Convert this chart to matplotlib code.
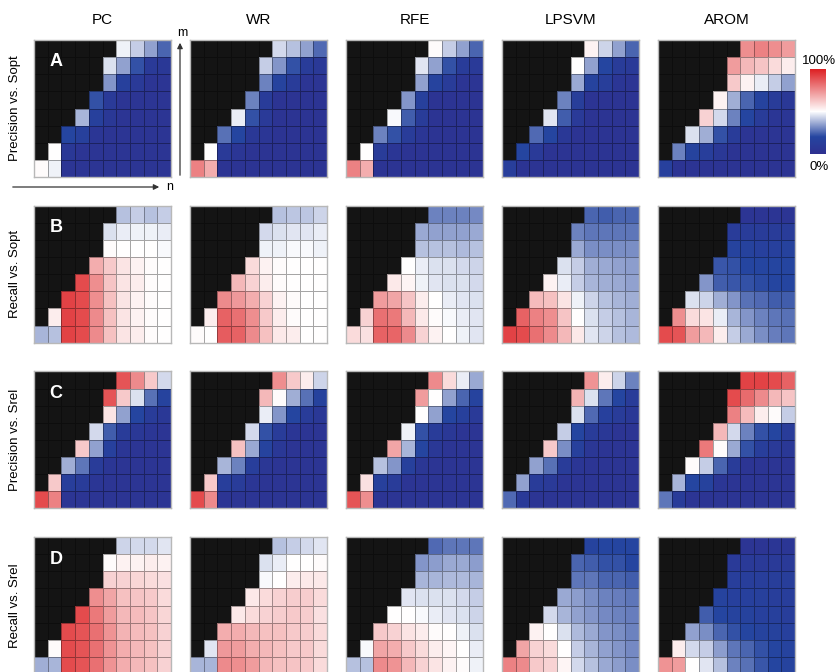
import numpy as np
import matplotlib
matplotlib.use("Agg")
import matplotlib.pyplot as plt
from matplotlib.colors import LinearSegmentedColormap
from matplotlib.cm import ScalarMappable
from matplotlib.colors import Normalize

plt.rcParams['font.family'] = ['Liberation Sans', 'DejaVu Sans']

methods = ["PC", "WR", "RFE", "LPSVM", "AROM"]
row_labels = ["Precision vs. Sopt", "Recall vs. Sopt", "Precision vs. Srel", "Recall vs. Srel"]
row_letters = ["A", "B", "C", "D"]

# black (undefined) cells per row, counted from the left, top row first
n_black = [6, 5, 5, 4, 3, 2, 1, 0]

# values in %, only the defined cells of every row (top row first)
A_PC = [
    [48, 42, 35, 25],
    [45, 35, 22, 10, 8],
    [33, 15, 10, 5, 5],
    [22, 10, 5, 5, 5, 5],
    [38, 15, 8, 5, 5, 5, 5],
    [20, 15, 6, 5, 5, 5, 5, 5],
    [50, 8, 5, 5, 5, 5, 5, 5, 5],
    [51, 48, 5, 5, 5, 5, 5, 5, 5, 5],
]
A_WR = [
    [44, 40, 35, 26],
    [42, 33, 22, 12, 9],
    [30, 18, 12, 5, 5],
    [30, 12, 4, 4, 4, 4],
    [47, 22, 10, 4, 4, 4, 4],
    [27, 20, 8, 6, 4, 4, 4, 4],
    [50, 10, 6, 4, 4, 4, 4, 4, 4],
    [78, 68, 4, 4, 4, 4, 4, 4, 4, 4],
]
A_RFE = [
    [51, 42, 35, 25],
    [46, 35, 22, 12, 10],
    [35, 18, 12, 5, 5],
    [33, 15, 4, 4, 4, 4],
    [49, 24, 12, 4, 4, 4, 4],
    [30, 22, 12, 6, 4, 4, 4, 4],
    [50, 12, 6, 4, 4, 4, 4, 4, 4],
    [78, 68, 4, 4, 4, 4, 4, 4, 4, 4],
]
A_LPSVM = [
    [53, 43, 35, 25],
    [50, 35, 20, 12, 10],
    [36, 18, 13, 6, 5],
    [30, 13, 4, 4, 4, 4],
    [46, 24, 10, 4, 4, 4, 4],
    [26, 20, 8, 4, 4, 4, 4, 4],
    [20, 10, 4, 4, 4, 4, 4, 4, 4],
    [14, 4, 4, 4, 4, 4, 4, 4, 4, 4],
]
A_AROM = [
    [75, 78, 75, 72],
    [72, 66, 63, 58, 54],
    [62, 53, 47, 42, 35],
    [53, 37, 25, 18, 12, 8],
    [60, 44, 30, 20, 12, 6, 6],
    [45, 37, 22, 12, 5, 5, 5, 5],
    [30, 18, 14, 8, 4, 4, 4, 4, 4],
    [16, 4, 4, 4, 4, 4, 4, 4, 4, 4],
]

B_PC = [
    [40, 42, 40, 42],
    [45, 47, 48, 48, 47],
    [51, 50, 50, 50, 49],
    [68, 62, 56, 53, 51, 50],
    [90, 75, 63, 56, 54, 51, 50],
    [92, 90, 75, 64, 56, 53, 51, 50],
    [54, 92, 90, 76, 64, 56, 53, 51, 50],
    [38, 40, 92, 90, 76, 64, 56, 54, 51, 50],
]
B_WR = [
    [40, 41, 41, 43],
    [44, 45, 46, 46, 47],
    [48, 48, 49, 49, 48],
    [58, 53, 51, 50, 50, 50],
    [66, 60, 54, 51, 50, 50, 50],
    [76, 73, 68, 60, 53, 51, 50, 50],
    [54, 85, 82, 75, 62, 54, 51, 50, 50],
    [51, 50, 86, 85, 76, 64, 55, 54, 50, 50],
]
B_RFE = [
    [30, 30, 30, 31],
    [36, 35, 35, 35, 36],
    [40, 40, 40, 39, 40],
    [50, 47, 45, 45, 44, 43],
    [55, 52, 48, 46, 45, 45, 44],
    [72, 70, 63, 54, 50, 47, 46, 45],
    [60, 82, 80, 66, 55, 51, 49, 47, 46],
    [58, 57, 85, 84, 76, 60, 53, 50, 48, 46],
]
B_LPSVM = [
    [25, 24, 25, 25],
    [30, 28, 28, 28, 28],
    [36, 32, 32, 32, 32],
    [45, 42, 37, 36, 35, 34],
    [53, 47, 42, 38, 37, 36, 35],
    [65, 64, 56, 48, 43, 40, 38, 37],
    [85, 78, 75, 63, 50, 45, 42, 40, 38],
    [92, 90, 82, 76, 66, 55, 46, 43, 40, 39],
]
B_AROM = [
    [5, 5, 5, 5],
    [12, 12, 12, 12, 12],
    [18, 17, 16, 16, 17],
    [23, 22, 20, 20, 20, 20],
    [33, 24, 23, 22, 21, 20, 20],
    [45, 43, 37, 33, 27, 26, 24, 24],
    [75, 58, 56, 47, 38, 33, 30, 28, 27],
    [90, 88, 72, 66, 54, 42, 36, 32, 29, 28],
]

C_PC = [
    [88, 76, 62, 44],
    [88, 62, 45, 27, 18],
    [56, 35, 20, 12, 8],
    [44, 24, 12, 8, 6, 5],
    [62, 35, 16, 6, 5, 5, 5],
    [37, 28, 12, 6, 5, 5, 5, 5],
    [62, 14, 12, 6, 5, 5, 5, 5, 5],
    [90, 78, 5, 5, 5, 5, 5, 5, 5, 5],
]
C_WR = [
    [75, 62, 54, 43],
    [66, 51, 37, 27, 17],
    [47, 33, 20, 12, 8],
    [44, 22, 12, 6, 5, 5],
    [64, 36, 18, 8, 5, 5, 5],
    [38, 30, 14, 7, 5, 5, 5, 5],
    [62, 14, 12, 6, 5, 5, 5, 5, 5],
    [90, 76, 5, 5, 5, 5, 5, 5, 5, 5],
]
C_RFE = [
    [76, 58, 47, 36],
    [72, 50, 35, 25, 18],
    [50, 35, 20, 15, 10],
    [48, 22, 12, 8, 5, 5],
    [70, 38, 20, 8, 5, 5, 5],
    [40, 33, 15, 7, 5, 5, 5, 5],
    [57, 15, 12, 5, 5, 5, 5, 5, 5],
    [88, 75, 5, 5, 5, 5, 5, 5, 5, 5],
]
C_LPSVM = [
    [74, 54, 43, 30],
    [67, 45, 28, 20, 12],
    [45, 26, 16, 12, 8],
    [42, 20, 12, 8, 5, 5],
    [62, 32, 15, 7, 5, 5, 5],
    [35, 27, 12, 6, 5, 5, 5, 5],
    [35, 12, 10, 5, 5, 5, 5, 5, 5],
    [26, 10, 5, 5, 5, 5, 5, 5, 5, 5],
]
C_AROM = [
    [92, 92, 90, 85],
    [90, 83, 76, 66, 63],
    [78, 65, 54, 51, 42],
    [66, 44, 30, 22, 20, 12],
    [80, 51, 36, 22, 14, 10, 8],
    [51, 42, 25, 12, 5, 5, 5, 5],
    [38, 20, 17, 6, 5, 5, 5, 5, 5],
    [28, 12, 5, 5, 5, 5, 5, 5, 5, 5],
]

D_PC = [
    [43, 44, 44, 46],
    [51, 53, 53, 54, 53],
    [60, 60, 59, 58, 57],
    [75, 70, 64, 63, 62, 58],
    [90, 80, 72, 66, 65, 63, 59],
    [90, 88, 82, 74, 67, 65, 64, 60],
    [51, 90, 88, 82, 74, 68, 66, 64, 60],
    [37, 38, 90, 88, 82, 74, 68, 66, 64, 60],
]
D_WR = [
    [40, 42, 44, 46],
    [45, 47, 50, 50, 51],
    [49, 50, 54, 55, 55],
    [55, 58, 60, 61, 61, 58],
    [55, 58, 60, 61, 62, 61, 57],
    [68, 68, 66, 64, 64, 62, 61, 58],
    [46, 73, 72, 68, 66, 64, 62, 62, 58],
    [38, 38, 76, 75, 72, 66, 64, 63, 62, 58],
]
D_RFE = [
    [26, 28, 28, 28],
    [33, 34, 36, 36, 34],
    [38, 38, 39, 39, 38],
    [46, 45, 45, 45, 44, 42],
    [50, 50, 49, 47, 46, 45, 43],
    [62, 60, 56, 54, 51, 50, 48, 45],
    [49, 70, 68, 62, 58, 54, 52, 50, 47],
    [40, 40, 76, 74, 66, 60, 56, 53, 51, 48],
]
D_LPSVM = [
    [18, 20, 20, 20],
    [25, 24, 22, 22, 20],
    [28, 28, 25, 25, 24],
    [36, 34, 32, 30, 29, 28],
    [44, 38, 35, 33, 31, 30, 29],
    [53, 50, 45, 39, 36, 33, 32, 30],
    [70, 60, 58, 50, 42, 38, 35, 33, 31],
    [78, 76, 62, 60, 52, 44, 40, 36, 34, 32],
]
D_AROM = [
    [5, 5, 6, 6],
    [10, 10, 10, 10, 10],
    [14, 14, 14, 13, 13],
    [18, 16, 16, 15, 14, 14],
    [24, 20, 18, 17, 16, 15, 14],
    [35, 32, 25, 22, 20, 18, 17, 16],
    [54, 44, 42, 34, 28, 25, 22, 20, 18],
    [74, 72, 50, 46, 40, 30, 27, 23, 20, 18],
]

panels = [
    [A_PC, A_WR, A_RFE, A_LPSVM, A_AROM],
    [B_PC, B_WR, B_RFE, B_LPSVM, B_AROM],
    [C_PC, C_WR, C_RFE, C_LPSVM, C_AROM],
    [D_PC, D_WR, D_RFE, D_LPSVM, D_AROM],
]


def to_grid(rows):
    grid = np.full((len(n_black), 10), np.nan)
    for i, vals in enumerate(rows):
        grid[i, n_black[i]:] = vals
    return np.ma.masked_invalid(grid)


cmap = LinearSegmentedColormap.from_list(
    "blue_white_red",
    [(0.0, "#2e3090"), (0.2, "#2545a0"), (0.5, "#ffffff"), (1.0, "#dd1f22")])
cmap.set_bad("#141414")
norm = Normalize(0, 100)

W, H = 839, 672
fig = plt.figure(figsize=(W / 100, H / 100), dpi=100)

px0, py0 = 34, 40      # top-left of first panel, pixels
pw = 137               # panel size
dx, dy = 156, 165.7    # spacing


def fig_box(x, y, w, h):
    return [x / W, 1 - (y + h) / H, w / W, h / H]


axes = {}
for r in range(4):
    for c in range(5):
        x = px0 + c * dx
        y = py0 + r * dy
        ax = fig.add_axes(fig_box(x, y, pw, pw))
        ax.pcolormesh(np.arange(11), np.arange(9), to_grid(panels[r][c]),
                      cmap=cmap, norm=norm,
                      edgecolors=(0.0, 0.0, 0.0, 0.35), linewidth=0.6)
        ax.set_xlim(0, 10)
        ax.set_ylim(8, 0)
        ax.set_xticks([])
        ax.set_yticks([])
        for s in ax.spines.values():
            s.set_color("#b8b8b8")
            s.set_linewidth(1.0)
        axes[r, c] = ax
        if r == 0:
            fig.text((x + pw / 2) / W, 1 - 20 / H, methods[c],
                     ha="center", va="center", fontsize=11)
        if c == 0:
            fig.text(15 / W, 1 - (y + pw / 2) / H, row_labels[r],
                     rotation=90, ha="center", va="center", fontsize=9.5)
            ax.text(0.16, 0.84, row_letters[r], transform=ax.transAxes,
                    color="white", fontsize=13, fontweight="bold",
                    ha="center", va="center")

# n / m axis arrows next to the first panel
ax0 = axes[0, 0]
arrow_style = dict(arrowstyle="-|>", color="#333333", lw=0.9, mutation_scale=8)
ax0.annotate("", xy=(162 / W, 1 - 187 / H), xytext=(10 / W, 1 - 187 / H),
             xycoords="figure fraction", textcoords="figure fraction",
             arrowprops=arrow_style, annotation_clip=False)
fig.text(170 / W, 1 - 187 / H, "n", ha="center", va="center", fontsize=9)
ax0.annotate("", xy=(180 / W, 1 - 40 / H), xytext=(180 / W, 1 - 178 / H),
             xycoords="figure fraction", textcoords="figure fraction",
             arrowprops=arrow_style, annotation_clip=False)
fig.text(182 / W, 1 - 33 / H, "m", ha="center", va="center", fontsize=9)

# colour bar
cax = fig.add_axes(fig_box(810, 69, 16, 85))
cb = fig.colorbar(ScalarMappable(norm=norm, cmap=cmap), cax=cax)
cb.set_ticks([])
cb.outline.set_visible(False)
fig.text(819 / W, 1 - 61 / H, "100%", ha="center", va="center", fontsize=9.5)
fig.text(819 / W, 1 - 167 / H, "0%", ha="center", va="center", fontsize=9.5)

fig.savefig("out.png", dpi=100)
